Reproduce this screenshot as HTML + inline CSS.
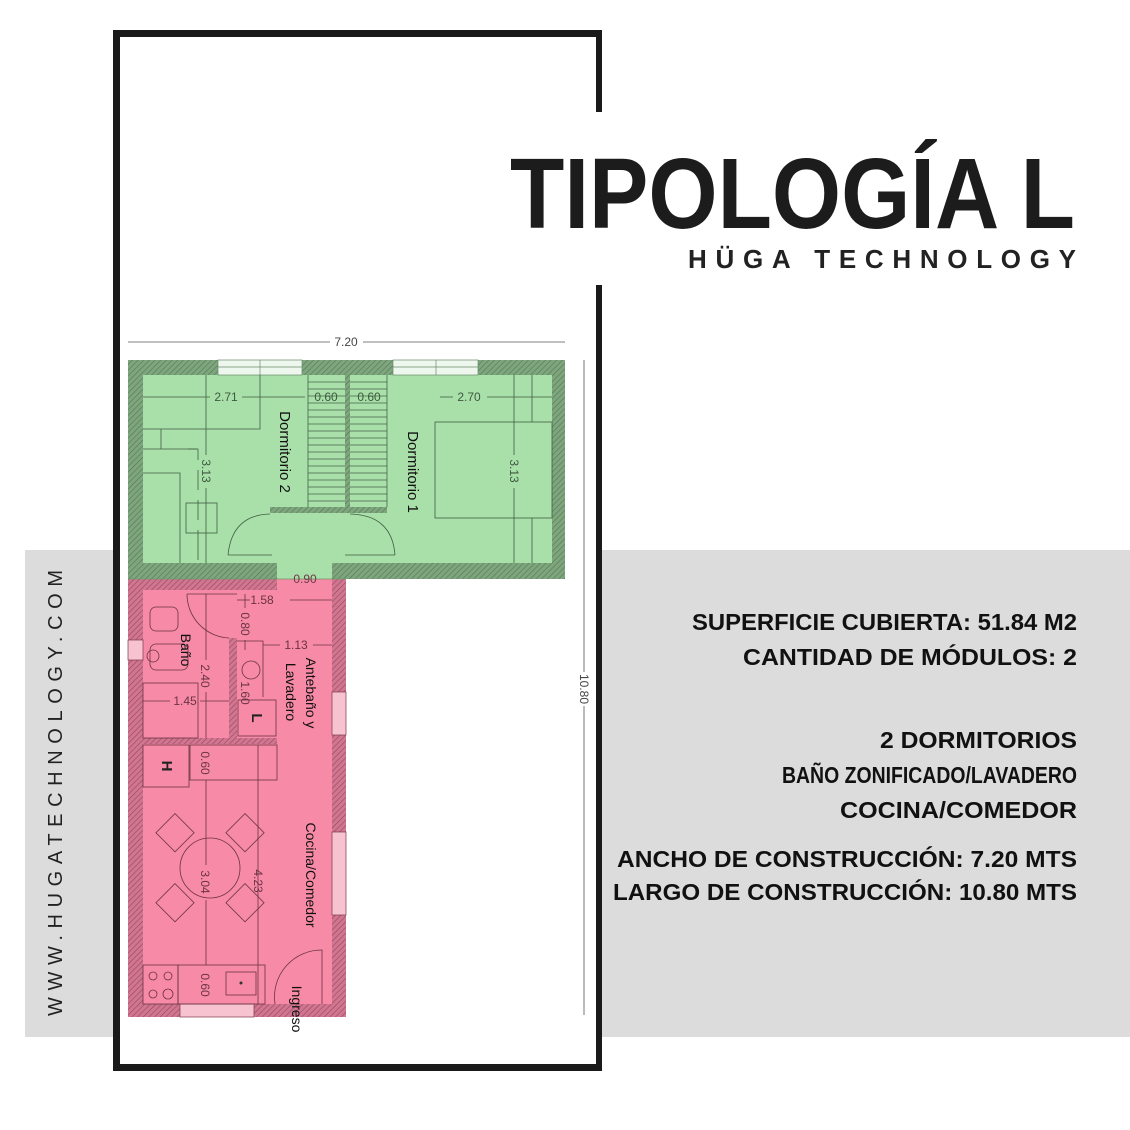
<!DOCTYPE html>
<html><head><meta charset="utf-8"><style>
html,body{margin:0;padding:0;background:#fff}
svg{display:block}
</style></head><body>
<svg width="1130" height="1130" viewBox="0 0 1130 1130" xmlns="http://www.w3.org/2000/svg" font-family="Liberation Sans, sans-serif">
<defs>
<pattern id="hg" width="4" height="4" patternUnits="userSpaceOnUse" patternTransform="rotate(45)"><rect width="4" height="4" fill="#7fa57f"/><line x1="0" y1="0" x2="0" y2="4" stroke="#4f7a50" stroke-width="1.2"/></pattern>
<pattern id="hp" width="4" height="4" patternUnits="userSpaceOnUse" patternTransform="rotate(45)"><rect width="4" height="4" fill="#d27590"/><line x1="0" y1="0" x2="0" y2="4" stroke="#8e4a5e" stroke-width="1.2"/></pattern>
</defs>
<rect width="1130" height="1130" fill="#fff"/>
<rect x="25" y="550" width="1105" height="487" fill="#dcdcdc"/>
<rect x="117" y="33" width="483" height="1035" fill="#fff"/>
<g fill="#1a1a1a">
<rect x="113" y="30" width="7" height="1041"/>
<rect x="113" y="30" width="489" height="7"/>
<rect x="596" y="30" width="6" height="82"/>
<rect x="596" y="285" width="6" height="786"/>
<rect x="113" y="1064" width="489" height="7"/>
</g>
<text x="510" y="228" font-size="100" font-weight="bold" fill="#1c1c1c" textLength="565" lengthAdjust="spacingAndGlyphs">TIPOLOGÍA L</text>
<text x="688" y="268" font-size="26" font-weight="bold" fill="#222" textLength="388" lengthAdjust="spacing">HÜGA TECHNOLOGY</text>
<g font-size="23" font-weight="bold" fill="#111" lengthAdjust="spacingAndGlyphs">
<text x="692" y="630" textLength="385" lengthAdjust="spacingAndGlyphs">SUPERFICIE CUBIERTA:  51.84 M2</text>
<text x="743" y="665" textLength="334" lengthAdjust="spacingAndGlyphs">CANTIDAD DE MÓDULOS:   2</text>
<text x="880" y="748" textLength="197" lengthAdjust="spacingAndGlyphs">2 DORMITORIOS</text>
<text x="782" y="783" textLength="295" lengthAdjust="spacingAndGlyphs">BAÑO ZONIFICADO/LAVADERO</text>
<text x="840" y="818" textLength="237" lengthAdjust="spacingAndGlyphs">COCINA/COMEDOR</text>
<text x="617" y="867" textLength="460" lengthAdjust="spacingAndGlyphs">ANCHO DE CONSTRUCCIÓN: 7.20 MTS</text>
<text x="613" y="900" textLength="464" lengthAdjust="spacingAndGlyphs">LARGO DE CONSTRUCCIÓN: 10.80 MTS</text>
</g>
<text transform="translate(62,1016) rotate(-90)" font-size="20" fill="#222" textLength="446" lengthAdjust="spacing">WWW.HUGATECHNOLOGY.COM</text>

<g stroke="#555" stroke-width="0.8" fill="none">
<line x1="128" y1="342" x2="330" y2="342"/><line x1="363" y1="342" x2="565" y2="342"/>
<line x1="584" y1="360" x2="584" y2="672"/><line x1="584" y1="706" x2="584" y2="1015"/>
</g>
<text x="346" y="346" font-size="12" fill="#444" text-anchor="middle">7.20</text>
<text transform="translate(580,689) rotate(90)" font-size="12" fill="#444" text-anchor="middle">10.80</text>

<rect x="128" y="360" width="437" height="219" fill="url(#hg)"/>
<rect x="143" y="375" width="409" height="188" fill="#a9dfa9"/>
<rect x="277" y="560" width="55" height="20" fill="#a9dfa9"/>
<g fill="#eef7ee" stroke="#6a8a6a" stroke-width="0.7">
<rect x="218" y="360" width="84" height="15"/><rect x="393" y="360" width="85" height="15"/>
</g>
<g stroke="#6a8a6a" stroke-width="0.7"><line x1="218" y1="367" x2="302" y2="367"/><line x1="393" y1="367" x2="478" y2="367"/><line x1="260" y1="360" x2="260" y2="375"/><line x1="436" y1="360" x2="436" y2="375"/></g>
<rect x="345" y="375" width="5" height="132" fill="url(#hg)"/>
<rect x="270" y="507" width="117" height="6" fill="url(#hg)"/>
<g stroke="#44644a" stroke-width="0.8">
<line x1="308" y1="375" x2="308" y2="507"/><line x1="387" y1="375" x2="387" y2="507"/>
<path d="M308 382H345M308 389H345M308 396H345M308 403H345M308 410H345M308 417H345M308 424H345M308 431H345M308 438H345M308 445H345M308 452H345M308 459H345M308 466H345M308 473H345M308 480H345M308 487H345M308 494H345M308 501H345"/>
<path d="M350 382H387M350 389H387M350 396H387M350 403H387M350 410H387M350 417H387M350 424H387M350 431H387M350 438H387M350 445H387M350 452H387M350 459H387M350 466H387M350 473H387M350 480H387M350 487H387M350 494H387M350 501H387"/>
</g>
<g stroke="#3f5f42" stroke-width="0.8" fill="none">
<path d="M228 555 Q232 515 270 514 M395 555 Q392 515 350 514"/>
<line x1="228" y1="555" x2="272" y2="555"/><line x1="345" y1="555" x2="395" y2="555"/>
<line x1="143" y1="397" x2="210" y2="397"/><line x1="242" y1="397" x2="305" y2="397"/>
<line x1="440" y1="397" x2="453" y2="397"/><line x1="487" y1="397" x2="552" y2="397"/>
<line x1="206" y1="375" x2="206" y2="455"/><line x1="206" y1="488" x2="206" y2="563"/>
<line x1="514" y1="375" x2="514" y2="455"/><line x1="514" y1="488" x2="514" y2="563"/>
<path d="M143 429H260V375"/><path d="M143 449H197M161 429V449"/>
<path d="M143 473H180V563"/><rect x="186" y="503" width="31" height="30"/>
<path d="M188 449H198V460M198 470V490M198 500V520M198 530V560"/>
<rect x="435" y="422" width="117" height="96"/>
<path d="M532 375V422M532 518V563"/>
</g>
<g font-size="12" fill="#3d5a40" text-anchor="middle">
<text x="226" y="401">2.71</text><text x="326" y="401">0.60</text><text x="369" y="401">0.60</text><text x="469" y="401">2.70</text>
<text transform="translate(202,471) rotate(90)">3.13</text>
<text transform="translate(510,471) rotate(90)">3.13</text>
</g>
<g font-size="15" fill="#111" text-anchor="middle">
<text transform="translate(280,452) rotate(90)">Dormitorio 2</text>
<text transform="translate(408,472) rotate(90)">Dormitorio 1</text>
</g>

<rect x="128" y="579" width="218" height="438" fill="url(#hp)"/>
<rect x="143" y="590" width="189" height="414" fill="#f78aa6"/>
<rect x="277" y="579" width="55" height="12" fill="#f78aa6"/>
<line x1="128" y1="579" x2="346" y2="579" stroke="#6c9a6c" stroke-width="0.8"/>
<text x="305" y="583" font-size="12" fill="#6a3a46" text-anchor="middle">0.90</text>
<rect x="229" y="638" width="8" height="100" fill="url(#hp)"/>
<rect x="143" y="738" width="134" height="6" fill="url(#hp)"/>
<g fill="#f8c3d1" stroke="#7a3a4c" stroke-width="0.7">
<rect x="332" y="692" width="14" height="43"/><rect x="332" y="832" width="14" height="83"/>
<rect x="180" y="1004" width="74" height="13"/>
<rect x="128" y="640" width="15" height="20"/>
</g>
<g stroke="#6a3344" stroke-width="0.8" fill="none">
<rect x="150" y="607" width="28" height="24" rx="6"/><rect x="150" y="644" width="38" height="26" rx="6"/>
<circle cx="153" cy="656" r="6"/>
<rect x="143" y="683" width="55" height="55"/>
<path d="M187 594 A44 44 0 0 0 229 638"/><line x1="187" y1="594" x2="237" y2="594"/>
<line x1="206" y1="594" x2="206" y2="660"/><line x1="206" y1="692" x2="206" y2="738"/>
<line x1="143" y1="701" x2="170" y2="701"/><line x1="200" y1="701" x2="229" y2="701"/>
<line x1="237" y1="600" x2="250" y2="600"/><line x1="290" y1="600" x2="332" y2="600"/>
<line x1="245" y1="594" x2="245" y2="608"/><line x1="245" y1="640" x2="245" y2="650"/>
<line x1="263" y1="645" x2="280" y2="645"/><line x1="313" y1="645" x2="332" y2="645"/>
<path d="M237 641H263V697"/>
<circle cx="251" cy="670" r="9"/>
<rect x="238" y="700" width="38" height="36"/>
<rect x="143" y="745" width="46" height="42"/>
<rect x="190" y="745" width="87" height="35"/>
<path d="M258 745V1004"/>
<line x1="206" y1="780" x2="206" y2="865"/><line x1="206" y1="900" x2="206" y2="965"/>
<circle cx="210" cy="868" r="30"/>
<rect x="162" y="819" width="27" height="27" transform="rotate(45 175 832)"/>
<rect x="232" y="819" width="27" height="27" transform="rotate(45 245 832)"/>
<rect x="162" y="889" width="27" height="27" transform="rotate(45 175 902)"/>
<rect x="232" y="889" width="27" height="27" transform="rotate(45 245 902)"/>
<rect x="143" y="965" width="35" height="39"/>
<rect x="178" y="965" width="87" height="39"/>
<rect x="226" y="972" width="30" height="23"/>
<circle cx="153" cy="976" r="4"/><circle cx="168" cy="976" r="4"/><circle cx="153" cy="994" r="4"/><circle cx="168" cy="994" r="5"/>
<path d="M275 1004 A47 47 0 0 1 322 950 V1004"/>
</g>
<circle cx="241" cy="983" r="1.5" fill="#333"/>
<g font-size="12" fill="#6a3344" text-anchor="middle">
<text x="262" y="604">1.58</text>
<text x="296" y="649">1.13</text>
<text x="185" y="705">1.45</text>
<text transform="translate(201,676) rotate(90)">2.40</text>
<text transform="translate(241,624) rotate(90)">0.80</text>
<text transform="translate(241,693) rotate(90)">1.60</text>
<text transform="translate(201,763) rotate(90)">0.60</text>
<text transform="translate(201,882) rotate(90)">3.04</text>
<text transform="translate(254,881) rotate(90)">4.23</text>
<text transform="translate(201,985) rotate(90)">0.60</text>
</g>
<g font-size="15" font-weight="bold" fill="#222" text-anchor="middle">
<text transform="translate(252,718) rotate(90)">L</text>
<text transform="translate(162,766) rotate(90)">H</text>
</g>
<g font-size="14" fill="#111" text-anchor="middle">
<text transform="translate(181,650) rotate(90)">Baño</text>
<text transform="translate(306,693) rotate(90)">Antebaño y</text>
<text transform="translate(286,692) rotate(90)">Lavadero</text>
<text transform="translate(306,875) rotate(90)">Cocina/Comedor</text>
<text transform="translate(292,1009) rotate(90)">Ingreso</text>
</g>
</svg>
</body></html>
